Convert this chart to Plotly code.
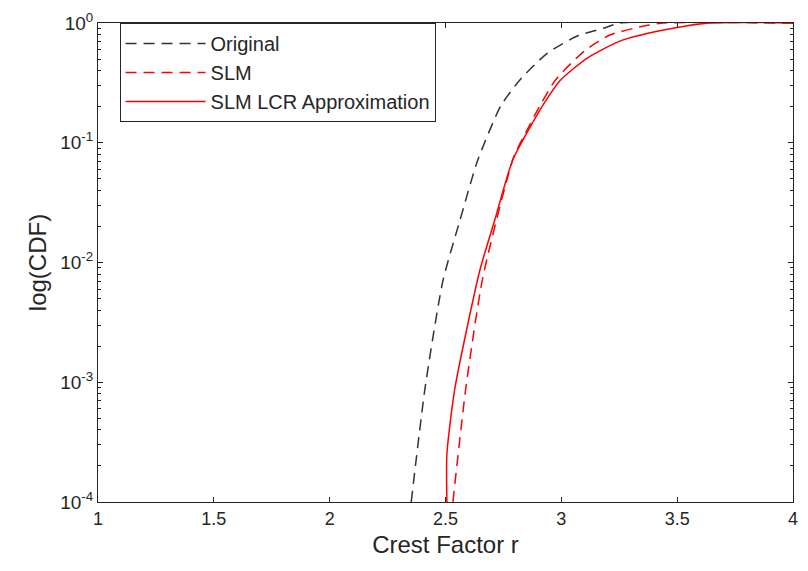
import plotly.graph_objects as go

# Crest factor r versus CDF, one list pair per curve
orig_r = [2.352, 2.412, 2.489, 2.562, 2.639, 2.738, 2.820, 2.940, 3.069, 3.185, 3.253, 4.0]
orig_cdf = [1e-4, 9.0e-4, 7.06e-3, 2.24e-2, 7.14e-2, 0.202, 0.333, 0.561, 0.778, 0.908, 1.0, 1.0]

slm_r = [2.532, 2.588, 2.661, 2.794, 2.845, 2.897, 2.974, 3.099, 3.210, 3.356, 3.442, 4.0]
slm_cdf = [1e-4, 9.0e-4, 7.48e-3, 7.57e-2, 0.120, 0.187, 0.333, 0.583, 0.794, 0.944, 1.0, 1.0]

lcr_r = [2.506, 2.506, 2.541, 2.648, 2.712, 2.790, 2.918, 2.996, 3.112, 3.253, 3.442, 3.639, 4.0]
lcr_cdf = [1e-4, 2.52e-4, 9.0e-4, 8.57e-3, 2.24e-2, 7.14e-2, 0.202, 0.333, 0.509, 0.706, 0.873, 1.0, 1.0]

x_ticks = [1, 1.5, 2, 2.5, 3, 3.5, 4]
y_ticks = [1e-4, 1e-3, 1e-2, 1e-1, 1]
y_ticktext = ["10<sup>-4</sup>", "10<sup>-3</sup>", "10<sup>-2</sup>", "10<sup>-1</sup>", "10<sup>0</sup>"]
y_minor = [m * 10 ** e for e in range(-4, 0) for m in range(2, 10)]

ink = "#262626"
family = "Liberation Sans, Arial, sans-serif"

fig = go.Figure()
fig.add_trace(go.Scatter(x=orig_r, y=orig_cdf, mode="lines", name="Original",
                         line=dict(color="#333333", width=1.5, dash="11px,7px",
                                   shape="spline", smoothing=0.6)))
fig.add_trace(go.Scatter(x=slm_r, y=slm_cdf, mode="lines", name="SLM",
                         line=dict(color="#ff0000", width=1.5, dash="11px,7px",
                                   shape="spline", smoothing=0.6)))
fig.add_trace(go.Scatter(x=lcr_r, y=lcr_cdf, mode="lines", name="SLM LCR Approximation",
                         line=dict(color="#ff0000", width=1.5,
                                   shape="spline", smoothing=0.6)))

tick_font = dict(family=family, size=18, color=ink)

fig.update_layout(
    width=808, height=571,
    margin=dict(l=98, r=10, t=23, b=69),
    paper_bgcolor="white", plot_bgcolor="white",
    font=dict(family=family, color=ink),
    showlegend=True,
    legend=dict(x=0.031, y=1.0, xanchor="left", yanchor="top",
                bgcolor="white", bordercolor=ink, borderwidth=1,
                font=dict(size=20, color=ink), itemwidth=80,
                tracegroupgap=0),
    xaxis=dict(range=[1, 4], tickvals=x_ticks, ticktext=[str(v) for v in x_ticks],
               ticks="inside", ticklen=5, tickcolor=ink,
               showline=True, linecolor=ink, linewidth=1, mirror="ticks",
               showgrid=False, zeroline=False, tickfont=tick_font,
               title=dict(text="Crest Factor r", font=dict(size=24, color=ink), standoff=8)),
    yaxis=dict(type="log", range=[-4, 0], tickvals=y_ticks, ticktext=y_ticktext,
               ticks="inside", ticklen=5, tickcolor=ink,
               minor=dict(tickvals=y_minor, ticks="inside", ticklen=3, tickcolor=ink, showgrid=False),
               showline=True, linecolor=ink, linewidth=1, mirror="ticks",
               showgrid=False, zeroline=False, tickfont=dict(family=family, size=19, color=ink),
               title=dict(text="log(CDF)", font=dict(size=24, color=ink), standoff=6)),
)

fig.write_html("out.html")
